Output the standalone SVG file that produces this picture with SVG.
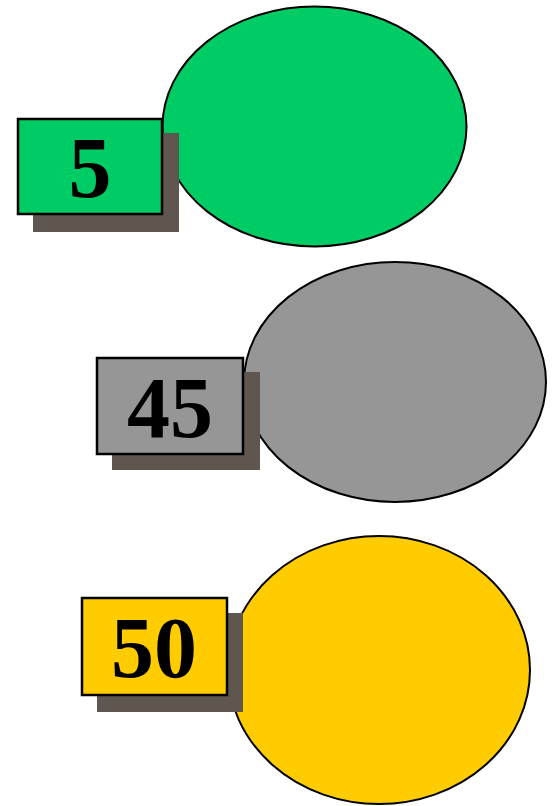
<svg xmlns="http://www.w3.org/2000/svg" width="557" height="806" viewBox="0 0 557 806">
<style>
.ell{stroke:#000;stroke-width:2}
.shadow{fill:#5f574f}
.box{stroke:#000;stroke-width:2.5}
.num{font-family:"Liberation Serif","Times New Roman",serif;font-weight:bold;font-size:86px;text-anchor:middle;fill:#000}
</style>
<rect width="557" height="806" fill="#fff"/>
<g id="node-5">
<ellipse class="ell" cx="314.5" cy="126.5" rx="152" ry="120" fill="#00cc66"/>
<rect class="shadow" x="33" y="133" width="146" height="99"/>
<rect class="box" x="18" y="119" width="144" height="95" fill="#00cc66"/>
<text class="num" x="90" y="197">5</text>
</g>
<g id="node-45">
<ellipse class="ell" cx="395" cy="382" rx="151" ry="120" fill="#969696"/>
<rect class="shadow" x="112" y="372" width="148" height="98"/>
<rect class="box" x="97" y="358" width="146" height="96" fill="#969696"/>
<text class="num" x="170" y="437">45</text>
</g>
<g id="node-50">
<ellipse class="ell" cx="379" cy="670" rx="151" ry="134" fill="#ffcc00"/>
<rect class="shadow" x="97" y="613" width="146" height="99"/>
<rect class="box" x="82" y="598" width="145" height="97" fill="#ffcc00"/>
<text class="num" x="154" y="677">50</text>
</g>
<g id="connectors"/>
</svg>
